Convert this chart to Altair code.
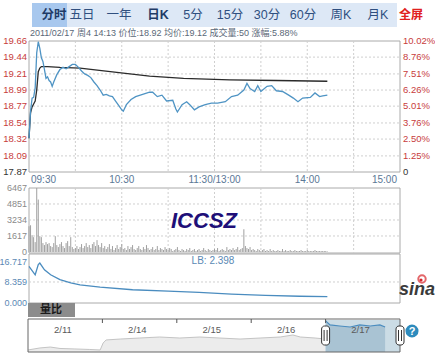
import altair as alt
import pandas as pd

# ---------------- data ----------------
price_t = [0, 1, 2, 3, 4, 5, 6, 7, 8, 9, 10, 11, 12, 13, 14, 15, 16, 18, 20, 22, 24, 26, 28, 30, 32, 34, 36, 38,
           40, 42, 44, 46, 48, 50, 52, 54, 56, 58, 60, 61, 63, 66, 69, 72, 75, 78, 80, 83, 86, 89, 93, 95, 96,
           99, 102, 104, 107, 110, 114, 118, 122, 127, 131, 135, 139, 141, 143, 146, 148, 150, 154, 157, 160,
           164, 168, 171, 174, 177, 182, 185, 188, 190, 193]
price_v = [18.33, 18.70, 18.88, 18.89, 19.02, 19.50, 19.65, 19.56, 19.43, 19.38, 19.27, 19.15, 19.17, 19.12,
           19.10, 19.04, 19.10, 19.20, 19.27, 19.30, 19.28, 19.31, 19.34, 19.34, 19.30, 19.25, 19.21, 19.19,
           19.16, 19.10, 19.05, 18.99, 18.92, 18.93, 18.91, 18.90, 18.84, 18.78, 18.72, 18.70, 18.79, 18.86,
           18.90, 18.92, 18.94, 18.96, 18.96, 18.90, 18.92, 18.84, 18.85, 18.73, 18.69, 18.79, 18.83, 18.79,
           18.72, 18.76, 18.79, 18.81, 18.81, 18.83, 18.90, 18.92, 18.99, 19.08, 19.01, 18.97, 19.05, 18.97,
           19.04, 19.05, 18.98, 18.97, 18.92, 18.88, 18.83, 18.88, 18.89, 18.95, 18.90, 18.91, 18.92]

avg_t = [0, 1, 2, 3, 4, 5, 6, 7, 8, 12, 20, 33, 61, 78, 100, 130, 160, 193]
avg_v = [18.33, 18.68, 18.76, 18.80, 18.84, 18.99, 19.24, 19.29, 19.31, 19.31, 19.30, 19.29, 19.22, 19.18,
         19.15, 19.13, 19.12, 19.11]

vol = [2600, 2700, 1700, 1500, 1000, 6467, 5300, 1600, 1500, 900,
       700, 1000, 800, 900, 600, 500, 900, 1600, 700, 500,
       800, 1000, 600, 400, 900, 1100, 600, 1500, 500, 300,
       400, 600, 300, 500, 800, 400, 600, 900, 500, 700,
       400, 800, 1000, 600, 1200, 700, 500, 900, 400, 600,
       300, 500, 800, 300, 600, 200, 400, 700, 300, 500,
       800, 300, 400, 200, 600, 300, 500, 700, 300, 200,
       400, 600, 300, 200, 500, 300, 700, 400, 200, 300,
       500, 200, 300, 600, 200, 400, 300, 200, 500, 300,
       200, 400, 300, 100, 200, 300, 500, 200, 100, 300,
       200, 100, 300, 200, 400, 100, 200, 300, 100, 200,
       300, 100, 200, 400, 200, 100, 300, 200, 100, 200,
       300, 200, 400, 100, 200, 300, 200, 100, 500, 200,
       300, 200, 400, 200, 300, 500, 200, 300, 400, 2300,
       600, 400, 300, 500, 200, 300, 200, 100, 300, 200,
       100, 200, 300, 100, 200, 100, 300, 100, 200, 100,
       100, 200, 100, 100, 300, 100, 200, 100, 100, 200,
       100, 100, 200, 100, 100, 100, 200, 100, 100, 100,
       200, 100, 100, 100, 100, 200, 100, 100, 100, 100,
       100, 100, 100, 50]

lb_t = [0, 2, 4, 6, 7, 10, 14, 20, 27, 33, 46, 67, 90, 110, 131, 153, 175, 193]
lb_v = [14.7, 13.0, 11.3, 15.5, 16.1, 13.3, 11.3, 9.3, 8.0, 7.2, 6.3, 5.2, 4.6, 4.1, 3.4, 2.9, 2.55, 2.398]

price_ticks = [19.66, 19.44, 19.21, 18.99, 18.77, 18.54, 18.32, 18.09, 17.87]
price_labels = ["19.66", "19.44", "19.21", "18.99", "18.77", "18.54", "18.32", "18.09", "17.87"]
pct_labels = ["10.02%", "8.76%", "7.51%", "6.26%", "5.01%", "3.76%", "2.50%", "1.25%", "0"]
prev_close = 17.87
vol_ticks = [6467, 4851, 3234, 1617, 0]
lb_ticks = [16.717, 8.359, 0.0]
lb_labels = ["16.717", "8.359", "0.000"]
time_ticks = [0, 60, 120, 180, 240]
time_labels = ["09:30", "10:30", "11:30/13:00", "14:00", "15:00"]
grid_t = [30, 60, 90, 120, 150, 180, 210]

menu_items = ["分时", "五日", "一年", "日K", "5分", "15分", "30分", "60分", "周K", "月K"]
info_text = "2011/02/17 周4 14:13 价位:18.92 均价:19.12 成交量:50 涨幅:5.88%"

nav_days = ["2/11", "2/14", "2/15", "2/16", "2/17"]
nav_grey_d = [0, 0.16, 0.3, 0.43, 0.63, 0.83, 0.97, 1.01, 1.05, 1.24, 1.5, 1.77, 2.04, 2.31, 2.58, 2.85,
              3.12, 3.39, 3.56, 3.66, 3.86, 4.0]
nav_grey_v = [16.24, 16.48, 16.59, 16.42, 16.36, 16.30, 16.24, 17.07, 17.43, 17.54, 17.66, 17.78, 17.66,
              17.78, 17.66, 17.54, 17.66, 17.78, 18.02, 17.78, 17.66, 17.54]
nav_blue_d = [4.0, 4.06, 4.19, 4.33, 4.46, 4.6, 4.73, 4.8]
nav_blue_v = [19.70, 19.21, 19.09, 18.97, 19.21, 19.09, 19.21, 18.97]

# ---------------- layout / style ----------------
menu_x = [54, 82, 119, 158, 193, 230, 267, 303, 341, 378]
menu_bold = [True, False, False, True, False, False, False, False, False, False]
NUM_FONT = "Liberation Sans"
CJK_FONT = "Noto Sans CJK SC"
MIX_FONT = "Liberation Sans, Noto Sans CJK SC"
RED = "#c83c3c"
GRID = "#cfcfcf"

T = alt.Scale(domain=[0, 240], range=[29, 400], nice=False, zero=False)
P = alt.Scale(domain=[17.87, 19.66], range=[172, 41], nice=False, zero=False)
V = alt.Scale(domain=[0, 6467], range=[252, 188], nice=False, zero=False)
L = alt.Scale(domain=[0, 16.717], range=[302.5, 261.5], nice=False, zero=False)
D = alt.Scale(domain=[0, 5], range=[28, 400], nice=False, zero=False)
N = alt.Scale(domain=[16.0, 19.8], range=[352, 320], nice=False, zero=False)

one = pd.DataFrame({"k": [0]})


def box(x1, x2, y1, y2, **kw):
    return alt.Chart(one).mark_rect(**kw).encode(
        x=alt.value(x1), x2=alt.value(x2), y=alt.value(y1), y2=alt.value(y2))


def txt(s, x, y, **kw):
    return alt.Chart(pd.DataFrame({"s": [s]})).mark_text(**kw).encode(
        x=alt.value(x), y=alt.value(y), text="s:N")


layers = []

# ---- menu bar ----
layers.append(box(32, 397, 3, 27, fill="#dde8f6"))
layers.append(box(32, 67, 3, 27, fill="#a8c8ee"))
menu_df = pd.DataFrame({"s": menu_items, "x": menu_x, "b": menu_bold})
for bold in (True, False):
    sub = menu_df[menu_df["b"] == bold]
    layers.append(alt.Chart(sub).mark_text(
        font=MIX_FONT, fontSize=12.5, fontWeight="bold" if bold else "normal",
        color="#1f3b66" if bold else "#2f4f7f", baseline="middle").encode(
        x=alt.X("x:Q", scale=None), y=alt.value(15), text="s:N"))
layers.append(txt("全屏", 411, 15, font=CJK_FONT, fontSize=12, fontWeight="bold",
                  color="#e02020", baseline="middle"))

# ---- info line ----
layers.append(txt(info_text, 30, 33, font=MIX_FONT, fontSize=9, color="#5a6878",
                  align="left", baseline="middle"))

# ---- main price panel ----
layers.append(box(29, 400, 41, 172, fill="white", stroke="#aaaaaa", strokeWidth=1))
hg = pd.DataFrame({"v": price_ticks[1:-1]})
layers.append(alt.Chart(hg).mark_rule(color=GRID, strokeDash=[2, 2], strokeWidth=1).encode(
    y=alt.Y("v:Q", scale=P, axis=None), x=alt.value(29), x2=alt.value(400)))
vg = pd.DataFrame({"t": grid_t})
layers.append(alt.Chart(vg).mark_rule(color=GRID, strokeDash=[2, 2], strokeWidth=1).encode(
    x=alt.X("t:Q", scale=T, axis=None), y=alt.value(41), y2=alt.value(172)))
avg_df = pd.DataFrame({"t": avg_t, "p": avg_v})
layers.append(alt.Chart(avg_df).mark_line(color="#2b2b2b", strokeWidth=1.3).encode(
    x=alt.X("t:Q", scale=T, axis=None), y=alt.Y("p:Q", scale=P, axis=None)))
price_df = pd.DataFrame({"t": price_t, "p": price_v})
layers.append(alt.Chart(price_df).mark_line(color="#4f94c4", strokeWidth=1.3).encode(
    x=alt.X("t:Q", scale=T, axis=None), y=alt.Y("p:Q", scale=P, axis=None)))

lab_df = pd.DataFrame({
    "v": price_ticks, "l": price_labels, "r": pct_labels,
    "c": [RED if v > prev_close else "#333333" for v in price_ticks]})
layers.append(alt.Chart(lab_df).mark_text(font=NUM_FONT, fontSize=9.5, align="right",
                                          baseline="middle").encode(
    y=alt.Y("v:Q", scale=P, axis=None), x=alt.value(27), text="l:N",
    color=alt.Color("c:N", scale=None)))
layers.append(alt.Chart(lab_df).mark_text(font=NUM_FONT, fontSize=9.5, align="left",
                                          baseline="middle").encode(
    y=alt.Y("v:Q", scale=P, axis=None), x=alt.value(403), text="r:N",
    color=alt.Color("c:N", scale=None)))

tl = pd.DataFrame({"t": time_ticks, "l": time_labels})
for sub, al, dx in ((tl.iloc[[0]], "left", 2), (tl.iloc[1:4], "center", 0), (tl.iloc[[4]], "right", -3)):
    layers.append(alt.Chart(sub).mark_text(font=NUM_FONT, fontSize=10, color="#5b7896",
                                           align=al, dx=dx, baseline="middle").encode(
        x=alt.X("t:Q", scale=T, axis=None), y=alt.value(180), text="l:N"))

# ---- volume panel ----
layers.append(box(29, 400, 188, 253, fill="white", stroke="#aaaaaa", strokeWidth=1))
vh = pd.DataFrame({"v": vol_ticks[1:-1]})
layers.append(alt.Chart(vh).mark_rule(color=GRID, strokeDash=[2, 2]).encode(
    y=alt.Y("v:Q", scale=V, axis=None), x=alt.value(29), x2=alt.value(400)))
layers.append(alt.Chart(vg).mark_rule(color=GRID, strokeDash=[2, 2]).encode(
    x=alt.X("t:Q", scale=T, axis=None), y=alt.value(188), y2=alt.value(253)))
vol_df = pd.DataFrame({"t": list(range(len(vol))), "v": vol, "z": [0] * len(vol)})
layers.append(alt.Chart(vol_df).mark_rule(color="#a0a0a0", strokeWidth=1).encode(
    x=alt.X("t:Q", scale=T, axis=None), y=alt.Y("v:Q", scale=V, axis=None), y2="z:Q"))
vl = pd.DataFrame({"v": vol_ticks, "l": [str(v) for v in vol_ticks]})
layers.append(alt.Chart(vl).mark_text(font=NUM_FONT, fontSize=9, color="#8a8a8a", align="right",
                                      baseline="middle").encode(
    y=alt.Y("v:Q", scale=V, axis=None), x=alt.value(27), text="l:N"))
layers.append(txt("ICCSZ", 204, 221, font=NUM_FONT, fontSize=22, fontWeight="bold",
                  fontStyle="italic", color="#200f78", baseline="middle"))

# ---- LB panel ----
layers.append(box(29, 400, 254, 303, fill="white", stroke="#aaaaaa", strokeWidth=1))
layers.append(alt.Chart(pd.DataFrame({"v": [lb_ticks[1]]})).mark_rule(
    color=GRID, strokeDash=[2, 2]).encode(
    y=alt.Y("v:Q", scale=L, axis=None), x=alt.value(29), x2=alt.value(400)))
lb_df = pd.DataFrame({"t": lb_t, "v": lb_v})
layers.append(alt.Chart(lb_df).mark_line(color="#4a8cbf", strokeWidth=1.3).encode(
    x=alt.X("t:Q", scale=T, axis=None), y=alt.Y("v:Q", scale=L, axis=None)))
ll = pd.DataFrame({"v": lb_ticks, "l": lb_labels})
layers.append(alt.Chart(ll).mark_text(font=NUM_FONT, fontSize=9, color="#5a88b4", align="right",
                                      baseline="middle").encode(
    y=alt.Y("v:Q", scale=L, axis=None), x=alt.value(27), text="l:N"))
layers.append(txt("LB: 2.398", 213, 261, font=NUM_FONT, fontSize=10, color="#5a88b4",
                  baseline="middle"))

# ---- 量比 tab ----
layers.append(box(28, 75, 303, 317, fill="#8c8c8c"))
layers.append(txt("量比", 51, 310, font=CJK_FONT, fontSize=11, fontWeight="bold",
                  color="#1a1a1a", baseline="middle"))

# ---- navigator ----
layers.append(box(28, 400, 319, 352, fill="white"))
ng = pd.DataFrame({"d": nav_grey_d, "v": nav_grey_v, "b": [16.0] * len(nav_grey_d)})
layers.append(alt.Chart(ng).mark_area(color="#ececec").encode(
    x=alt.X("d:Q", scale=D, axis=None), y=alt.Y("v:Q", scale=N, axis=None), y2="b:Q"))
layers.append(alt.Chart(ng).mark_line(color="#c4c4c4", strokeWidth=1).encode(
    x=alt.X("d:Q", scale=D, axis=None), y=alt.Y("v:Q", scale=N, axis=None)))
sel = pd.DataFrame({"a": [4], "b": [5]})
layers.append(alt.Chart(sel).mark_rect(color="#cbdce5").encode(
    x=alt.X("a:Q", scale=D, axis=None), x2="b:Q", y=alt.value(320), y2=alt.value(352)))
nb = pd.DataFrame({"d": nav_blue_d, "v": nav_blue_v, "b": [16.0] * len(nav_blue_d)})
layers.append(alt.Chart(nb).mark_area(color="#a9c3d3").encode(
    x=alt.X("d:Q", scale=D, axis=None), y=alt.Y("v:Q", scale=N, axis=None), y2="b:Q"))
layers.append(alt.Chart(nb).mark_line(color="#4a8cbf", strokeWidth=1.2).encode(
    x=alt.X("d:Q", scale=D, axis=None), y=alt.Y("v:Q", scale=N, axis=None)))
layers.append(box(28, 400, 319, 352, fillOpacity=0, stroke="#666666", strokeWidth=1))
ticks = pd.DataFrame({"d": [1, 2, 3, 4]})
layers.append(alt.Chart(ticks).mark_rule(color="#555555").encode(
    x=alt.X("d:Q", scale=D, axis=None), y=alt.value(319), y2=alt.value(323)))
nl = pd.DataFrame({"d": [i + 0.47 for i in range(len(nav_days))], "l": nav_days})
layers.append(alt.Chart(nl).mark_text(font=NUM_FONT, fontSize=9.5, color="#5a5a5a",
                                      baseline="middle").encode(
    x=alt.X("d:Q", scale=D, axis=None), y=alt.value(330), text="l:N"))
hd = pd.DataFrame({"d": [4, 5]})
layers.append(alt.Chart(hd).mark_rect(fill="white", stroke="#333333", strokeWidth=1, cornerRadius=3,
                                      xOffset=-4, x2Offset=4).encode(
    x=alt.X("d:Q", scale=D, axis=None), x2="d:Q", y=alt.value(326), y2=alt.value(345)))
for off in (-1.5, 1.5):
    layers.append(alt.Chart(hd).mark_rule(color="#333333", strokeWidth=1, xOffset=off).encode(
        x=alt.X("d:Q", scale=D, axis=None), y=alt.value(330), y2=alt.value(341)))

# ---- help icon & logo ----
layers.append(alt.Chart(one).mark_circle(color="#2d8bbd", opacity=1, size=170).encode(
    x=alt.value(412), y=alt.value(331)))
layers.append(txt("?", 412, 331.5, font=NUM_FONT, fontSize=11, fontWeight="bold", color="white",
                  baseline="middle"))
layers.append(alt.Chart(one).mark_point(shape="circle", color="#d8262b", filled=False, size=55,
                                        strokeWidth=2).encode(x=alt.value(422), y=alt.value(279)))
layers.append(alt.Chart(one).mark_circle(color="#d8262b", opacity=1, size=10).encode(
    x=alt.value(421), y=alt.value(280)))
layers.append(txt("sina", 417, 290, font=NUM_FONT, fontSize=18, fontStyle="italic",
                  fontWeight="bold", color="#3a3a3a", baseline="middle"))

chart = alt.layer(*layers).resolve_scale(
    x="independent", y="independent", color="independent"
).properties(
    width=435, height=356, padding=0, autosize=alt.AutoSizeParams(type="none"),
    background="white"
).configure_view(stroke=None)

chart.save("out.html", embed_options={"renderer": "svg", "actions": False})
